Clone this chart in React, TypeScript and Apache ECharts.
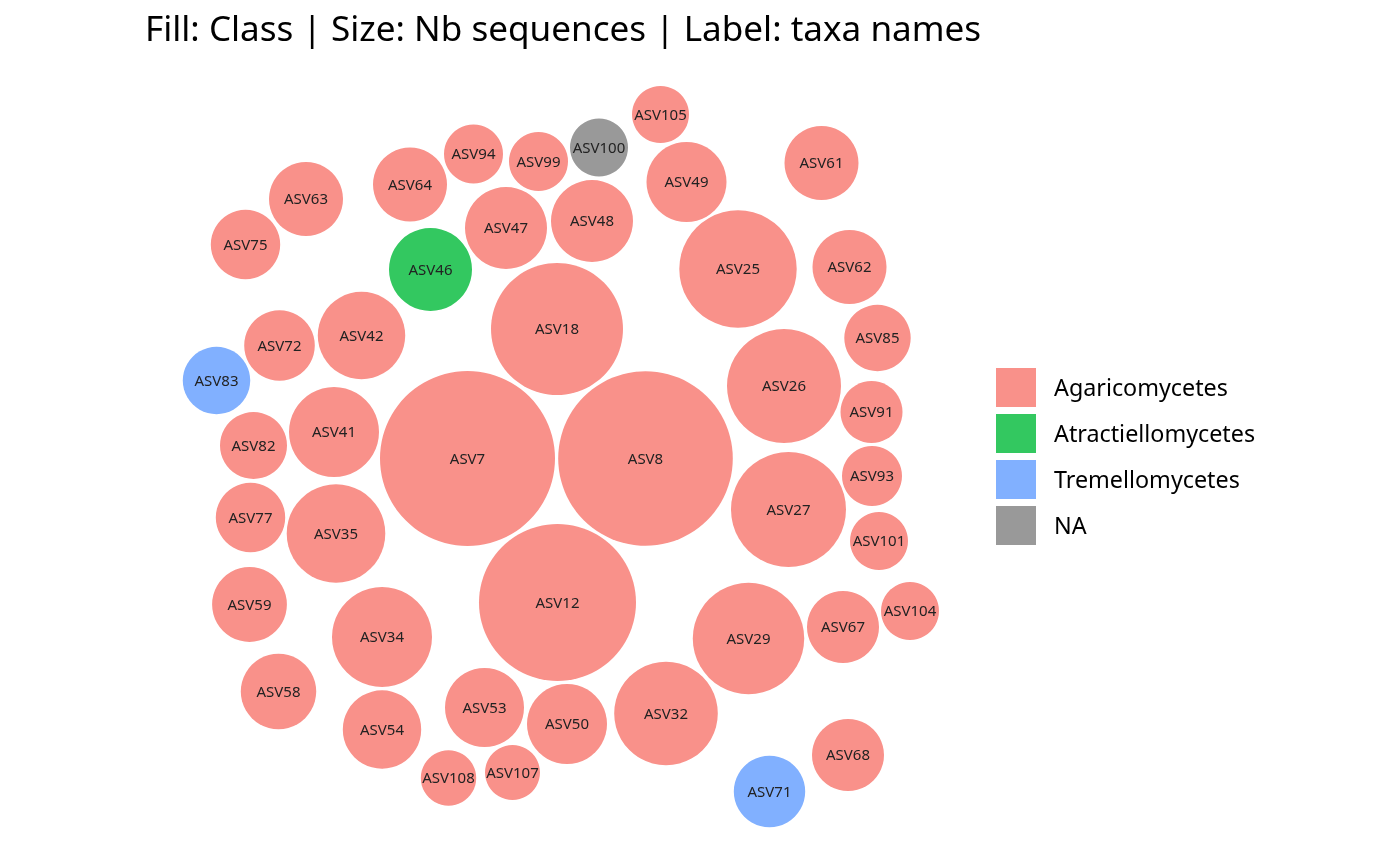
import React, { useEffect, useRef } from "react";
import * as echarts from "echarts";

const titleText = "Fill: Class | Size: Nb sequences | Label: taxa names";

const classNames = ["Agaricomycetes", "Atractiellomycetes", "Tremellomycetes", "NA"];
const classColors = ["#F9918A", "#33C860", "#81B0FF", "#999999"];

const taxa = [
  "ASV7", "ASV8", "ASV12", "ASV18", "ASV25", "ASV26", "ASV27", "ASV29", "ASV32", "ASV34",
  "ASV35", "ASV41", "ASV42", "ASV46", "ASV47", "ASV48", "ASV49", "ASV50", "ASV53", "ASV54",
  "ASV58", "ASV59", "ASV61", "ASV62", "ASV63", "ASV64", "ASV67", "ASV68", "ASV71", "ASV72",
  "ASV75", "ASV77", "ASV82", "ASV83", "ASV85", "ASV91", "ASV93", "ASV94", "ASV99", "ASV100",
  "ASV101", "ASV104", "ASV105", "ASV107", "ASV108",
];

const taxaClass = [
  "Agaricomycetes", "Agaricomycetes", "Agaricomycetes", "Agaricomycetes", "Agaricomycetes",
  "Agaricomycetes", "Agaricomycetes", "Agaricomycetes", "Agaricomycetes", "Agaricomycetes",
  "Agaricomycetes", "Agaricomycetes", "Agaricomycetes", "Atractiellomycetes", "Agaricomycetes",
  "Agaricomycetes", "Agaricomycetes", "Agaricomycetes", "Agaricomycetes", "Agaricomycetes",
  "Agaricomycetes", "Agaricomycetes", "Agaricomycetes", "Agaricomycetes", "Agaricomycetes",
  "Agaricomycetes", "Agaricomycetes", "Agaricomycetes", "Tremellomycetes", "Agaricomycetes",
  "Agaricomycetes", "Agaricomycetes", "Agaricomycetes", "Tremellomycetes", "Agaricomycetes",
  "Agaricomycetes", "Agaricomycetes", "Agaricomycetes", "Agaricomycetes", "NA",
  "Agaricomycetes", "Agaricomycetes", "Agaricomycetes", "Agaricomycetes", "Agaricomycetes",
];

// packed-circle layout coordinates (centre x, centre y) and radius
const xs = [
  -89.5, 88.5, 0.5, 0, 181, 227, 231.5, 191.5, 109, -175,
  -221, -223, -195.5, -126.5, -51, 35, 129.5, 10, -72.5, -175,
  -278.5, -307.5, 264.5, 292.5, -251, -147, 286, 291, 212.5, -277.5,
  -311.5, -306.5, -303.5, -340.5, 320.5, 314.5, 315, -83.5, -18.5, 42,
  322, 353, 103.5, -44.5, -108.5,
];
const ys = [
  -0.5, -0.5, -144.5, 129, 189, 72, -51.5, -180.5, -255.5, -179,
  -75.5, 26, 122.5, 188.5, 230, 237, 276, -266, -249.5, -271.5,
  -233.5, -146.5, 295, 191, 259, 273.5, -169, -297, -333.5, 112.5,
  213.5, -59.5, 12.5, 77.5, 120, 46, -18, 304, 296.5, 310.5,
  -83, -153, 343.5, -314.5, -320,
];
const radii = [
  87.5, 87.3, 78.5, 66, 58.7, 57, 57.5, 55.7, 51.8, 50,
  49.3, 45, 43.7, 41.5, 41, 41, 40, 40, 39.5, 39.2,
  37.7, 37.4, 37, 37, 37, 37, 36, 36, 35.7, 35.3,
  34.7, 34.7, 33.5, 33.7, 33.2, 31, 30, 29.5, 29.5, 29,
  29, 29, 28.5, 27.5, 27.7,
];

const FONT = "'Noto Sans', 'DejaVu Sans', sans-serif";

export default function App() {
  const ref = useRef<HTMLDivElement>(null);

  useEffect(() => {
    const chart = echarts.init(ref.current as HTMLDivElement, null, { renderer: "svg" });
    const data = taxa.map((t, i) => [xs[i], ys[i], radii[i], classNames.indexOf(taxaClass[i])]);

    const legendGraphics: any[] = [];
    classNames.forEach((name, i) => {
      legendGraphics.push({
        type: "rect",
        shape: { x: 996, y: 368 + 46 * i, width: 40, height: 39 },
        style: { fill: classColors[i] },
      });
      legendGraphics.push({
        type: "text",
        x: 1054,
        y: 387 + 46 * i,
        style: {
          text: name,
          fill: "#000000",
          fontSize: 23.3,
          fontFamily: FONT,
          align: "left",
          verticalAlign: "middle",
        },
      });
    });

    chart.setOption({
      animation: false,
      grid: { left: 0, top: 0, width: 1400, height: 866 },
      xAxis: { type: "value", min: -557, max: 843, show: false },
      yAxis: { type: "value", min: -408, max: 458, show: false },
      series: [
        {
          type: "custom",
          coordinateSystem: "cartesian2d",
          data,
          encode: { x: 0, y: 1 },
          renderItem: (params: any, api: any) => {
            const c = api.coord([api.value(0), api.value(1)]);
            const r = api.size([api.value(2), 0])[0];
            const cls = api.value(3) as number;
            return {
              type: "group",
              children: [
                {
                  type: "circle",
                  shape: { cx: c[0], cy: c[1], r },
                  style: { fill: classColors[cls] },
                },
                {
                  type: "text",
                  x: c[0],
                  y: c[1] - 1,
                  style: {
                    text: taxa[params.dataIndex],
                    fill: "#222222",
                    fontSize: 15,
                    fontFamily: FONT,
                    align: "center",
                    verticalAlign: "middle",
                  },
                },
              ],
            };
          },
        },
      ],
      graphic: [
        {
          type: "text",
          x: 145,
          y: 27,
          style: {
            text: titleText,
            fill: "#000000",
            fontSize: 35.1,
            fontFamily: FONT,
            align: "left",
            verticalAlign: "middle",
          },
        },
        ...legendGraphics,
      ],
    });

    return () => chart.dispose();
  }, []);

  return (
    <div
      ref={ref}
      style={{ position: "fixed", left: 0, top: 0, width: 1400, height: 866 }}
    />
  );
}
